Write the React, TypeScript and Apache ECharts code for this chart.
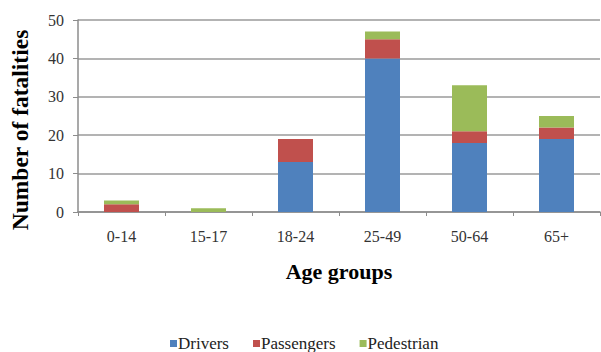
import React, { useEffect, useRef } from "react";
import * as echarts from "echarts";

const categories = ["0-14", "15-17", "18-24", "25-49", "50-64", "65+"];
const drivers = [0, 0, 13, 40, 18, 19];
const passengers = [2, 0, 6, 5, 3, 3];
const pedestrian = [1, 1, 0, 2, 12, 3];
const yTicks = { min: 0, max: 50, interval: 10 };

const FONT = "Liberation Serif, Times New Roman, serif";

export default function App() {
  const ref = useRef<HTMLDivElement>(null);
  useEffect(() => {
    if (!ref.current) return;
    const chart = echarts.init(ref.current, undefined, { renderer: "svg" });
    const bar = (name: string, data: number[], color: string) => ({
      name,
      type: "bar",
      stack: "total",
      data,
      barWidth: 35,
      itemStyle: { color },
    });
    chart.setOption({
      animation: false,
      textStyle: { fontFamily: FONT },
      grid: { left: 77, right: 1, top: 20, bottom: 140 },
      legend: {
        top: 330,
        left: 165,
        itemWidth: 7,
        itemHeight: 7,
        itemGap: 24,
        icon: "rect",
        textStyle: { fontFamily: FONT, fontSize: 17, color: "#222", padding: [0, 0, 0, -4] },
      },
      xAxis: {
        type: "category",
        data: categories,
        name: "Age groups",
        nameLocation: "middle",
        nameGap: 48,
        nameTextStyle: { fontFamily: FONT, fontSize: 22, fontWeight: "bold", color: "#000" },
        axisLine: { lineStyle: { color: "#8c8c8c", width: 1.5 } },
        axisTick: { show: true, length: 4, lineStyle: { color: "#8c8c8c" } },
        axisLabel: { fontFamily: FONT, fontSize: 16, color: "#333", margin: 16 },
      },
      yAxis: {
        type: "value",
        min: yTicks.min,
        max: yTicks.max,
        interval: yTicks.interval,
        name: "Number of fatalities",
        nameLocation: "middle",
        nameGap: 46,
        nameTextStyle: {
          fontFamily: FONT,
          fontSize: 23.5,
          fontWeight: "bold",
          color: "#000",
          padding: [0, 28, 0, 0],
        },
        axisLine: { show: true, lineStyle: { color: "#8c8c8c", width: 1.5 } },
        axisTick: { show: true, length: 5, lineStyle: { color: "#8c8c8c" } },
        axisLabel: { fontFamily: FONT, fontSize: 16, color: "#333", margin: 14 },
        splitLine: { lineStyle: { color: "#9a9a9a", width: 1.5 } },
      },
      series: [
        bar("Drivers", drivers, "#4F81BD"),
        bar("Passengers", passengers, "#C0504D"),
        bar("Pedestrian", pedestrian, "#9BBB59"),
      ],
    });
    return () => chart.dispose();
  }, []);
  return <div ref={ref} style={{ width: 601, height: 352, position: "absolute", left: 0, top: 0 }} />;
}
